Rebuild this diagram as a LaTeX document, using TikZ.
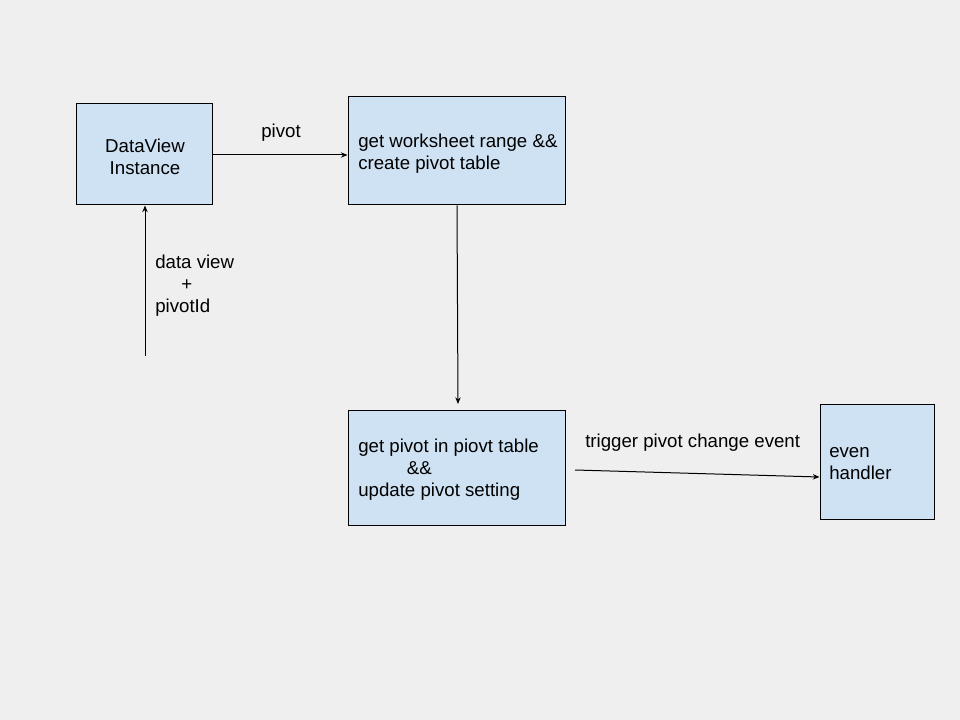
\documentclass[tikz,border=0pt]{standalone}
\usepackage{fontspec}
\setmainfont{Liberation Sans}
\usetikzlibrary{arrows.meta}
\definecolor{bg}{HTML}{EFEFEF}
\definecolor{boxfill}{HTML}{CFE2F3}
\begin{document}
\begin{tikzpicture}[x=0.75pt,y=-0.75pt,
  box/.style={draw=black,line width=0.75pt,fill=boxfill,rectangle,inner sep=0pt},
  txt/.style={font=\fontsize{14pt}{16.5pt}\selectfont,inner sep=0pt,align=left},
  conn/.style={draw=black,line width=0.75pt,-{Stealth[length=5pt,width=4pt]}}]
\fill[bg] (0,0) rectangle (960,720);
\useasboundingbox (0,0) rectangle (960,720);
% boxes
\node[box,minimum width=102pt,minimum height=75.75pt] (dv) at (144,154.5) {};
\node[box,minimum width=162.75pt,minimum height=81pt] (ws) at (456.5,151) {};
\node[box,minimum width=162.75pt,minimum height=86.25pt] (gp) at (456.5,467.5) {};
\node[box,minimum width=85.5pt,minimum height=86.25pt] (eh) at (877,461.5) {};
% box texts
\node[txt,align=center] (dvt) at (145,157) {DataView\\Instance};
\node[txt,anchor=west] (wst) at (358,154) {get worksheet range \&\&\\create pivot table};
\node[txt,anchor=west] (gpt) at (358,470) {get pivot in piovt table\\\hspace*{36.5pt}\&\&\\update pivot setting};
\node[txt,anchor=west] (eht) at (829,464) {even\\handler};
% coordinates
\coordinate (dvin) at (dv.south -| 145,0);
\coordinate (src) at (145,356);
\coordinate (wsout) at (ws.south -| 457,0);
\coordinate (gpin) at (458,404);
\coordinate (gpout) at (575,470);
\coordinate (ehin) at (eh.west |- 0,477);
% connectors
\draw[conn] (dv.east |- 0,155) -- (ws.west |- 0,155);
\draw[conn] (src) -- (dvin);
\draw[conn] (wsout) -- (gpin);
\draw[conn] (gpout) -- (ehin);
% labels
\node[txt] (lpivot) at (281,133) {pivot};
\node[txt,anchor=west] (ldv) at (155,286) {data view\\\hspace*{19.5pt}+\\pivotId};
\node[txt,anchor=west] (ltrig) at (585,443) {trigger pivot change event};
\end{tikzpicture}
\end{document}
